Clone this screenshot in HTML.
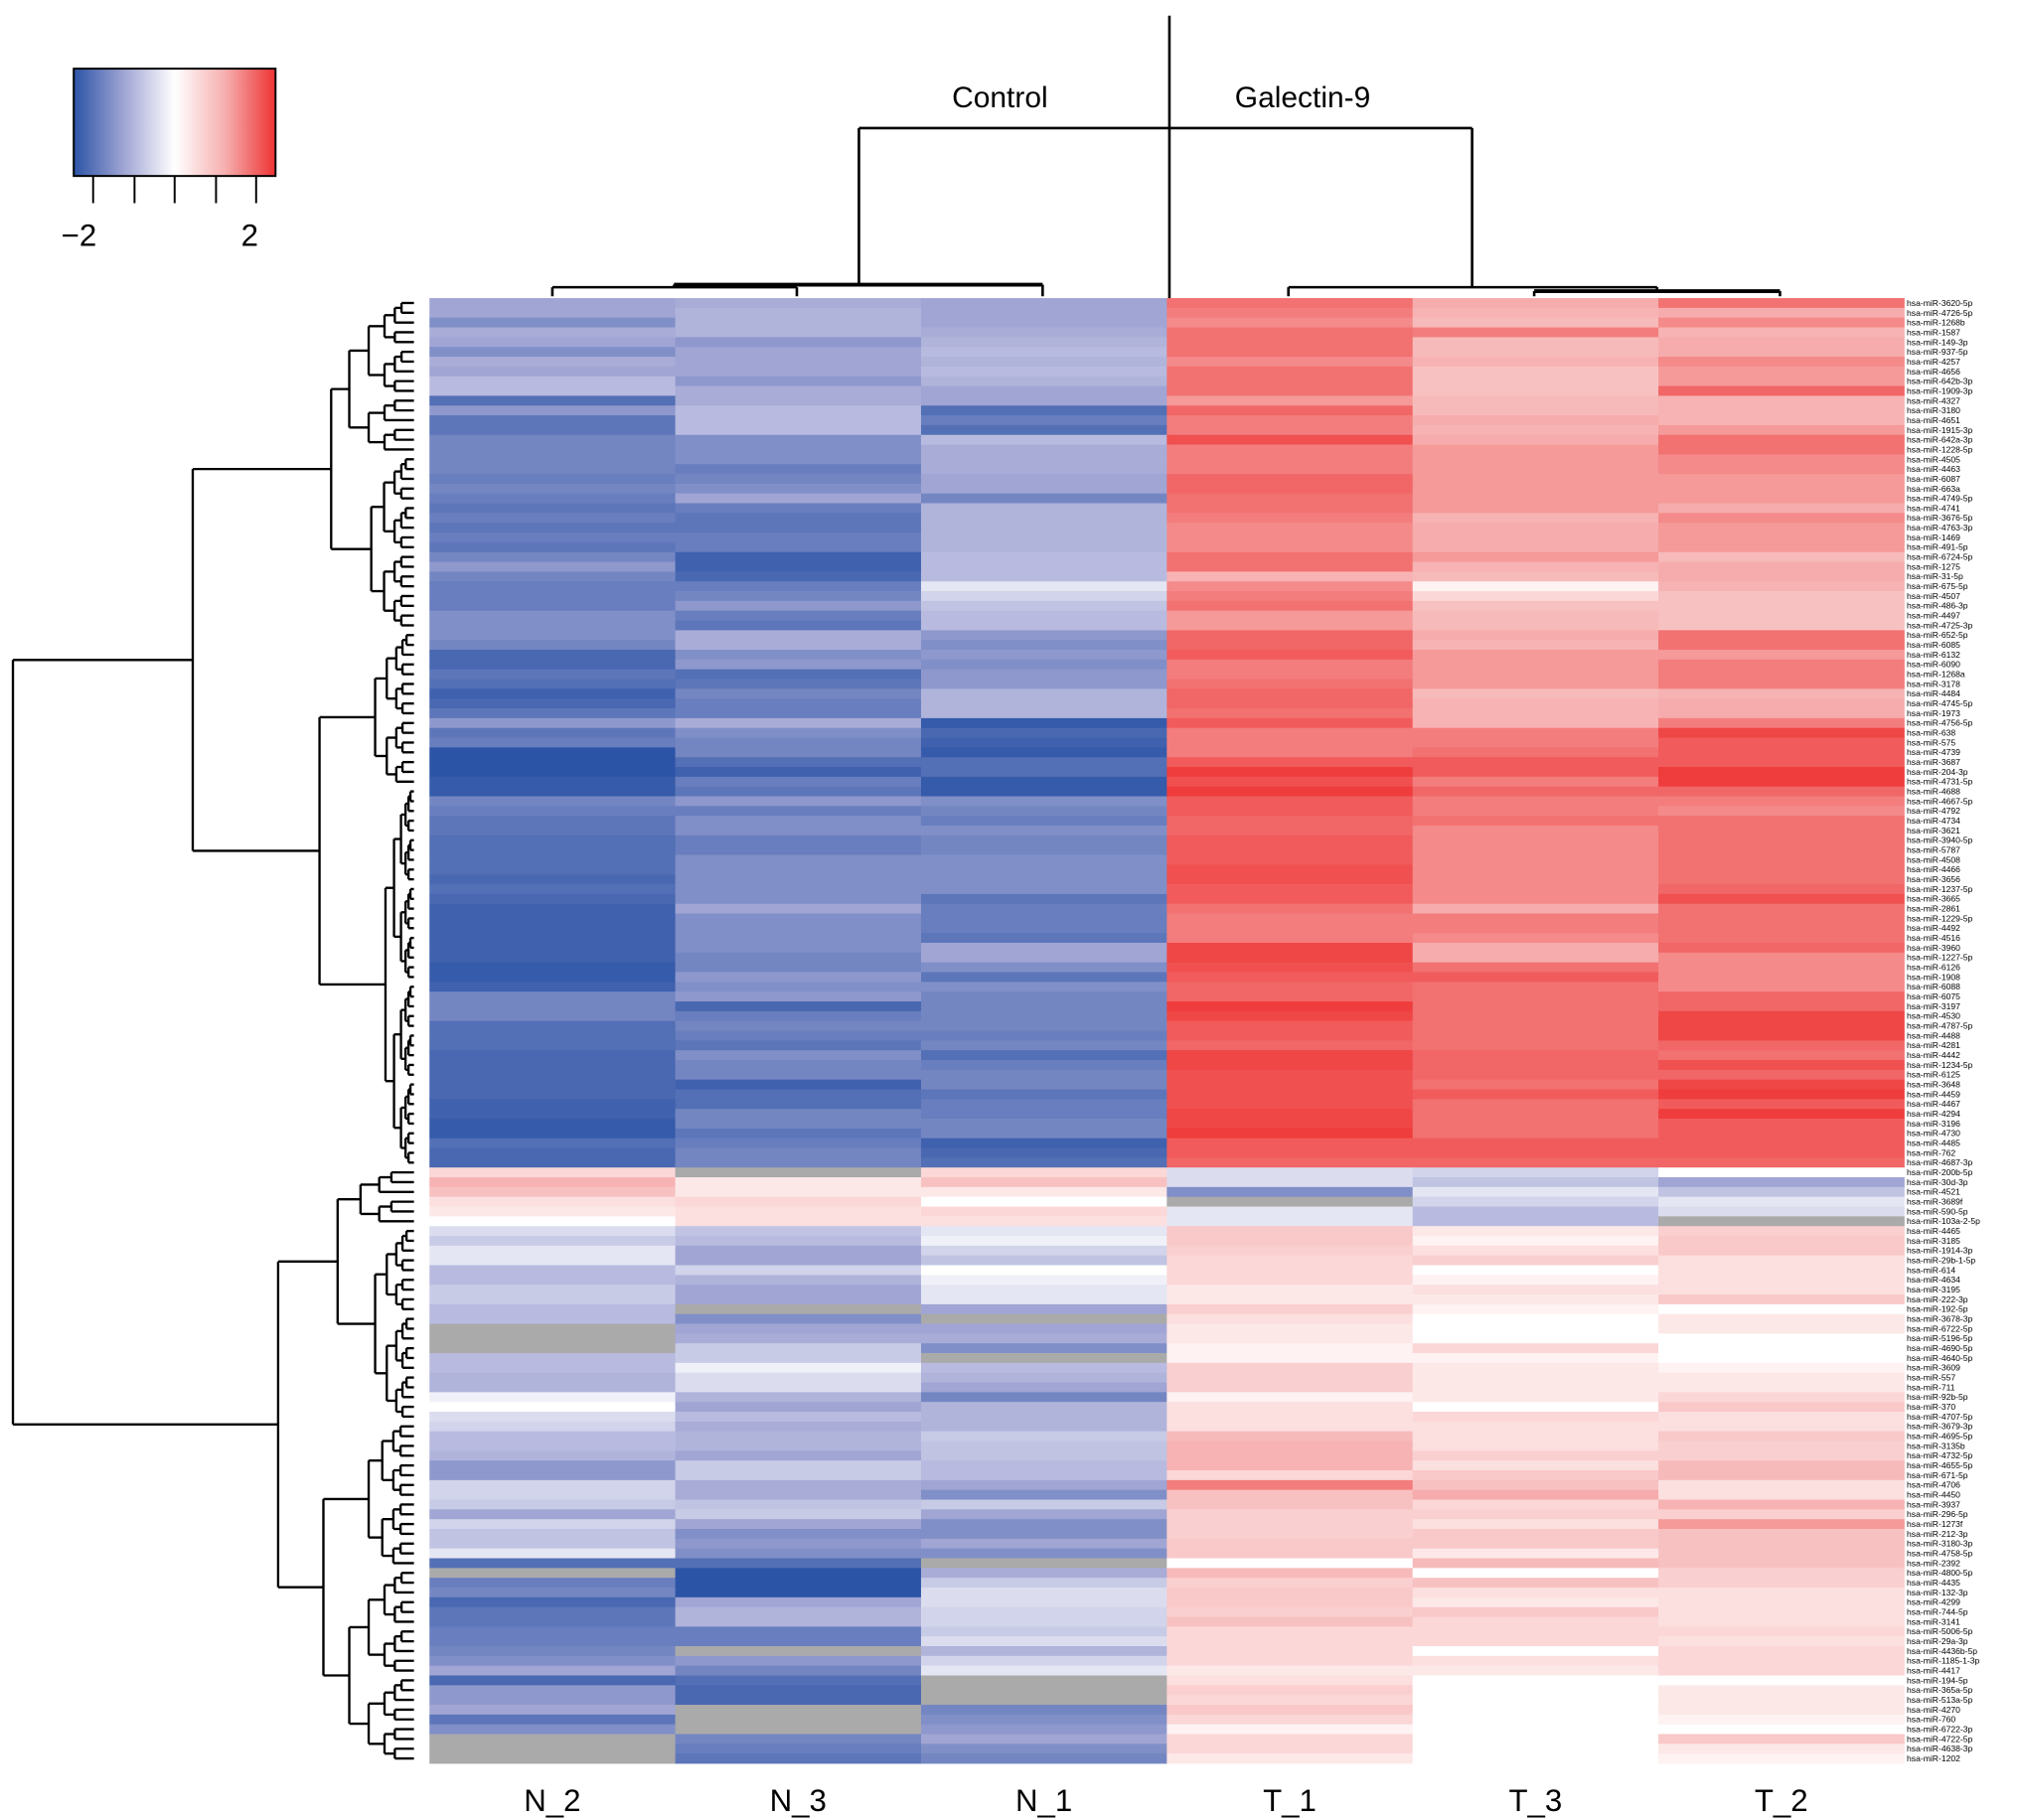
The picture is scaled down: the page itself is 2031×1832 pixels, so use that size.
<!DOCTYPE html>
<html><head><meta charset="utf-8"><style>
html,body{margin:0;padding:0;background:#fff;}
svg{display:block;}
</style></head><body>
<svg id="chart" width="2031" height="1832" viewBox="0 0 1560 1407" xmlns="http://www.w3.org/2000/svg" font-family="Liberation Sans, Arial, sans-serif">
<defs>
<linearGradient id="cg" x1="0" x2="1" y1="0" y2="0">
<stop offset="0" stop-color="#2c54a6"/><stop offset="0.25" stop-color="#a0a5d4"/><stop offset="0.5" stop-color="#ffffff"/><stop offset="0.75" stop-color="#f6afaf"/><stop offset="1" stop-color="#ee3232"/>
</linearGradient>
</defs>
<g>
<rect x="57" y="53" width="156" height="83" fill="url(#cg)" stroke="#000" stroke-width="1.5"/>
<g stroke="#000" stroke-width="1.5">
<line x1="72" y1="136" x2="72" y2="157"/><line x1="104" y1="136" x2="104" y2="157"/><line x1="135" y1="136" x2="135" y2="157"/><line x1="167" y1="136" x2="167" y2="157"/><line x1="198" y1="136" x2="198" y2="157"/>
</g>
<text x="61" y="190" font-size="24" text-anchor="middle">−2</text>
<text x="193" y="190" font-size="24" text-anchor="middle">2</text>
</g>
<g stroke="#000" stroke-width="2" fill="none">
<line x1="904" y1="12" x2="904" y2="231"/>
<line x1="664" y1="99" x2="1138" y2="99"/>
<line x1="664" y1="99" x2="664" y2="220"/>
<line x1="1138" y1="99" x2="1138" y2="222"/>
<line x1="521" y1="220" x2="806" y2="220" stroke-width="3"/>
<line x1="427" y1="222" x2="616" y2="222"/>
<line x1="521" y1="220" x2="521" y2="222"/>
<line x1="427" y1="222" x2="427" y2="229"/>
<line x1="616" y1="222" x2="616" y2="229"/>
<line x1="806" y1="220" x2="806" y2="229"/>
<line x1="996" y1="222" x2="1281" y2="222"/>
<line x1="1186" y1="225" x2="1376" y2="225" stroke-width="3"/>
<line x1="1281" y1="222" x2="1281" y2="225"/>
<line x1="996" y1="222" x2="996" y2="229"/>
<line x1="1186" y1="225" x2="1186" y2="229"/>
<line x1="1376" y1="225" x2="1376" y2="229"/>
</g>
<text x="773" y="83" font-size="23" text-anchor="middle">Control</text>
<text x="1007" y="83" font-size="23" text-anchor="middle">Galectin-9</text>
<g id="cells"></g>
<g id="rowlabels"></g>
<g id="collabels"></g>
<g id="rowdend" stroke="#000" stroke-width="1.8" fill="none"></g>
</svg>
<script>
const columns = ["N_2","N_3","N_1","T_1","T_3","T_2"];
const rowNames = ["3620-5p","4726-5p","1268b","1587","149-3p","937-5p","4257","4656","642b-3p","1909-3p","4327","3180","4651","1915-3p","642a-3p","1228-5p","4505","4463","6087","663a","4749-5p","4741","3676-5p","4763-3p","1469","491-5p","6724-5p","1275","31-5p","675-5p","4507","486-3p","4497","4725-3p","652-5p","6085","6132","6090","1268a","3178","4484","4745-5p","1973","4756-5p","638","575","4739","3687","204-3p","4731-5p","4688","4667-5p","4792","4734","3621","3940-5p","5787","4508","4466","3656","1237-5p","3665","2861","1229-5p","4492","4516","3960","1227-5p","6126","1908","6088","6075","3197","4530","4787-5p","4488","4281","4442","1234-5p","6125","3648","4459","4467","4294","3196","4730","4485","762","4687-3p","200b-5p","30d-3p","4521","3689f","590-5p","103a-2-5p","4465","3185","1914-3p","29b-1-5p","614","4634","3195","222-3p","192-5p","3678-3p","6722-5p","5196-5p","4690-5p","4640-5p","3609","557","711","92b-5p","370","4707-5p","3679-3p","4695-5p","3135b","4732-5p","4655-5p","671-5p","4706","4450","3937","296-5p","1273f","212-3p","3180-3p","4758-5p","2392","4800-5p","4435","132-3p","4299","744-5p","3141","5006-5p","29a-3p","4436b-5p","1185-1-3p","4417","194-5p","365a-5p","513a-5p","4270","760","6722-3p","4722-5p","4638-3p","1202"];
const valsN2 = [-1.0,-1.0,-1.2,-0.9,-1.0,-1.2,-0.9,-1.0,-0.7,-0.7,-1.6,-1.1,-1.5,-1.5,-1.3,-1.3,-1.3,-1.3,-1.4,-1.3,-1.4,-1.5,-1.4,-1.5,-1.4,-1.5,-1.3,-1.1,-1.3,-1.4,-1.4,-1.4,-1.2,-1.2,-1.2,-1.3,-1.7,-1.7,-1.5,-1.6,-1.8,-1.7,-1.5,-1.1,-1.5,-1.4,-2.0,-2.0,-2.0,-1.9,-1.9,-1.3,-1.4,-1.5,-1.5,-1.6,-1.6,-1.6,-1.6,-1.7,-1.6,-1.7,-1.8,-1.8,-1.8,-1.8,-1.8,-1.8,-1.9,-1.9,-1.8,-1.3,-1.3,-1.3,-1.6,-1.6,-1.6,-1.7,-1.7,-1.7,-1.7,-1.7,-1.8,-1.8,-1.9,-1.9,-1.6,-1.7,-1.7,0.4,0.9,0.7,0.3,0.2,0.0,-0.3,-0.5,-0.2,-0.2,-0.7,-0.7,-0.5,-0.5,-0.7,-0.7,null,null,null,-0.7,-0.7,-0.8,-0.8,-0.1,0.0,-0.3,-0.4,-0.7,-0.7,-0.8,-1.1,-1.1,-0.4,-0.4,-0.5,-1.0,-0.4,-0.6,-0.6,-0.2,-1.6,null,-1.4,-1.3,-1.7,-1.5,-1.5,-1.4,-1.4,-1.3,-1.2,-1.0,-1.7,-1.1,-1.1,-1.0,-1.5,-1.2,null,null,null];
const valsN3 = [-0.9,-0.8,-0.8,-0.8,-1.1,-1.0,-1.0,-1.0,-1.1,-0.9,-0.9,-0.7,-0.7,-0.7,-1.2,-1.2,-1.2,-1.4,-1.3,-1.2,-1.0,-1.4,-1.5,-1.5,-1.4,-1.4,-1.8,-1.8,-1.7,-1.4,-1.3,-1.1,-1.4,-1.5,-0.9,-0.9,-1.2,-1.1,-1.6,-1.5,-1.3,-1.4,-1.4,-0.9,-1.2,-1.3,-1.3,-1.6,-1.8,-1.4,-1.5,-1.1,-1.4,-1.2,-1.2,-1.4,-1.4,-1.2,-1.2,-1.2,-1.2,-1.2,-1.0,-1.2,-1.2,-1.2,-1.2,-1.3,-1.3,-1.1,-1.2,-1.1,-1.7,-1.4,-1.3,-1.4,-1.5,-1.2,-1.3,-1.3,-1.8,-1.6,-1.6,-1.3,-1.3,-1.5,-1.4,-1.3,-1.3,null,0.2,0.2,0.4,0.3,0.3,-0.6,-0.7,-1.0,-1.0,-0.4,-0.8,-1.0,-1.0,null,-1.2,-1.0,-0.9,-0.5,-0.5,-0.1,-0.3,-0.3,-0.8,-1.0,-0.7,-0.9,-0.8,-0.8,-1.0,-0.5,-0.5,-0.9,-0.9,-0.6,-0.5,-1.0,-1.2,-1.1,-1.2,-1.6,-2.0,-2.0,-2.0,-1.0,-0.8,-0.8,-1.4,-1.4,null,-1.1,-1.3,-1.6,-1.7,-1.7,null,null,null,-1.3,-1.4,-1.5];
const valsN1 = [-1.0,-1.0,-1.0,-0.9,-0.8,-0.7,-0.8,-0.7,-0.8,-1.0,-1.0,-1.6,-1.4,-1.6,-0.7,-0.9,-0.9,-0.9,-1.0,-1.0,-1.3,-0.8,-0.8,-0.8,-0.8,-0.8,-0.7,-0.7,-0.7,-0.2,-0.4,-0.6,-0.7,-0.7,-1.1,-1.2,-1.1,-1.2,-1.1,-1.1,-0.8,-0.8,-0.8,-1.9,-1.7,-1.8,-1.9,-1.6,-1.6,-1.9,-1.9,-1.2,-1.3,-1.4,-1.2,-1.3,-1.3,-1.2,-1.2,-1.2,-1.2,-1.5,-1.4,-1.4,-1.4,-1.5,-1.0,-1.0,-1.2,-1.5,-1.2,-1.3,-1.3,-1.3,-1.3,-1.4,-1.3,-1.6,-1.4,-1.3,-1.3,-1.5,-1.4,-1.4,-1.3,-1.3,-1.8,-1.7,-1.6,0.4,0.7,0.2,0.0,0.4,0.3,-0.2,-0.1,-0.4,-0.6,0.0,-0.1,-0.2,-0.2,-1.0,null,-1.0,-0.9,-1.2,null,-0.7,-0.8,-1.0,-1.3,-0.8,-0.8,-0.8,-0.5,-0.6,-0.6,-0.7,-0.7,-1.0,-1.2,-0.5,-1.0,-1.2,-1.2,-1.0,-1.2,null,-0.9,-0.5,-0.3,-0.3,-0.4,-0.4,-0.5,-0.3,-0.8,-0.4,-0.2,null,null,null,-1.3,-1.2,-1.1,-1.0,-1.2,-1.3];
const valsT1 = [1.4,1.3,1.2,1.4,1.4,1.4,1.2,1.4,1.4,1.4,1.1,1.5,1.3,1.3,1.7,1.3,1.3,1.3,1.5,1.5,1.4,1.4,1.3,1.2,1.2,1.2,1.4,1.4,0.9,1.2,1.3,1.4,1.1,1.1,1.5,1.5,1.6,1.3,1.3,1.4,1.5,1.5,1.4,1.6,1.3,1.3,1.3,1.6,1.9,1.7,1.9,1.6,1.6,1.5,1.5,1.6,1.6,1.6,1.7,1.7,1.6,1.6,1.4,1.3,1.3,1.3,1.8,1.8,1.7,1.6,1.5,1.5,1.9,1.8,1.6,1.6,1.5,1.8,1.8,1.7,1.7,1.7,1.7,1.8,1.8,1.9,1.6,1.6,1.5,-0.3,-0.3,-1.2,null,-0.2,-0.2,0.6,0.6,0.5,0.4,0.4,0.4,0.2,0.2,0.5,0.3,0.2,0.2,0.1,0.1,0.5,0.5,0.5,0.1,0.3,0.3,0.3,0.8,0.9,0.9,0.9,0.4,1.3,0.7,0.7,0.5,0.5,0.5,0.6,0.6,0.0,0.8,0.5,0.6,0.6,0.5,0.7,0.4,0.4,0.4,0.4,0.2,0.3,0.5,0.4,0.6,0.4,0.1,0.4,0.4,0.2];
const valsT3 = [1.0,0.9,0.8,1.3,0.8,0.8,0.9,0.7,0.7,0.7,0.8,0.8,1.0,0.9,1.0,1.1,1.1,1.1,1.1,1.1,1.1,1.1,0.9,1.0,1.0,1.0,1.1,0.9,0.8,0.1,0.4,0.7,0.8,0.8,1.0,0.9,1.1,1.1,1.1,1.1,0.8,0.9,0.9,0.9,1.3,1.3,1.4,1.6,1.6,1.3,1.5,1.3,1.3,1.4,1.2,1.2,1.2,1.2,1.2,1.2,1.2,1.2,1.0,1.3,1.3,1.2,1.0,1.0,1.4,1.6,1.4,1.4,1.4,1.4,1.4,1.4,1.4,1.5,1.5,1.5,1.4,1.6,1.4,1.4,1.4,1.4,1.6,1.6,1.5,-0.4,-0.6,-0.2,-0.4,-0.7,-0.7,0.2,0.1,0.3,0.5,0.0,0.1,0.3,0.2,0.1,0.0,0.0,0.0,0.4,0.1,0.2,0.2,0.2,0.2,0.0,0.4,0.3,0.3,0.3,0.5,0.3,0.6,0.7,1.0,0.4,0.5,0.3,0.6,0.6,0.2,0.8,0.0,0.7,0.3,0.2,0.6,0.4,0.4,0.4,0.0,0.3,0.2,0.0,0.0,0.0,0.0,0.0,0.0,0.0,0.0,0.0];
const valsT2 = [1.4,1.0,1.2,0.9,1.0,1.0,1.2,1.1,1.1,1.5,0.9,0.9,0.9,1.1,1.4,1.4,1.2,1.2,1.1,1.1,1.1,1.0,1.2,1.1,1.1,1.1,0.8,1.0,1.0,0.9,0.7,0.7,0.7,0.7,1.4,1.4,1.1,1.3,1.3,1.3,0.9,1.0,1.0,1.3,1.8,1.6,1.6,1.6,1.9,1.9,1.5,1.3,1.2,1.4,1.4,1.4,1.4,1.4,1.4,1.4,1.5,1.7,1.4,1.4,1.4,1.4,1.5,1.2,1.2,1.2,1.2,1.5,1.5,1.8,1.8,1.8,1.5,1.4,1.7,1.5,1.8,1.9,1.6,1.9,1.6,1.6,1.6,1.6,1.5,0.0,-1.0,-0.6,-0.2,-0.3,null,0.5,0.6,0.6,0.3,0.3,0.3,0.3,0.6,0.0,0.2,0.2,0.0,0.0,0.0,0.1,0.2,0.2,0.4,0.6,0.3,0.3,0.6,0.5,0.5,0.8,0.8,0.3,0.3,0.9,0.5,1.1,0.7,0.7,0.7,0.7,0.5,0.5,0.3,0.3,0.3,0.3,0.4,0.3,0.4,0.4,0.4,0.0,0.2,0.2,0.2,0.1,0.0,0.6,0.2,0.1];
const series = [valsN2, valsN3, valsN1, valsT1, valsT3, valsT2];

const NS = "http://www.w3.org/2000/svg";
const X0 = 332, X1 = 1472, Y0 = 230.4, Y1 = 1363.3;
const nRows = rowNames.length;
const colW = (X1 - X0) / columns.length;
const rowH = (Y1 - Y0) / nRows;
function xPos(c){ return X0 + c * colW; }
function yPos(r){ return Y0 + r * rowH; }
function lerp(a,b,t){ return Math.round(a + (b-a)*t); }
function mix(c1,c2,t){ return "rgb(" + lerp(c1[0],c2[0],t) + "," + lerp(c1[1],c2[1],t) + "," + lerp(c1[2],c2[2],t) + ")"; }
function colorOf(v){
  if (v === null) return "#aaaaaa";
  v = Math.max(-2, Math.min(2, v));
  const W=[255,255,255], B1=[160,165,212], B2=[44,84,166], R1=[246,172,172], R2=[238,50,50];
  if (v < 0) { const a=-v; return a<=1 ? mix(W,B1,Math.pow(a,0.8)) : mix(B1,B2,Math.pow(a-1,0.8)); }
  return v<=1 ? mix(W,R1,Math.pow(v,0.8)) : mix(R1,R2,Math.pow(v-1,0.8));
}
const cells = document.getElementById("cells");
series.forEach(function(vals, c){
  vals.forEach(function(v, r){
    const el = document.createElementNS(NS, "rect");
    el.setAttribute("x", xPos(c));
    el.setAttribute("y", yPos(r));
    el.setAttribute("width", colW + 0.3);
    el.setAttribute("height", rowH + 0.3);
    el.setAttribute("fill", colorOf(v));
    
    
    cells.appendChild(el);
  });
});
const rl = document.getElementById("rowlabels");
rowNames.forEach(function(n, r){
  const t = document.createElementNS(NS, "text");
  t.setAttribute("x", X1 + 2);
  t.setAttribute("y", yPos(r) + rowH*0.8);
  t.setAttribute("font-size", "6.6");
  t.textContent = "hsa-miR-" + n;
  
  
  rl.appendChild(t);
});
const cl = document.getElementById("collabels");
columns.forEach(function(n, c){
  const t = document.createElementNS(NS, "text");
  t.setAttribute("x", xPos(c) + colW/2);
  t.setAttribute("y", 1400);
  t.setAttribute("font-size", "24");
  t.setAttribute("text-anchor", "middle");
  t.textContent = n;
  
  
  cl.appendChild(t);
});
const rd = document.getElementById("rowdend");
const LEAFX = 320;
function line(x1,y1,x2,y2){
  const l = document.createElementNS(NS, "line");
  l.setAttribute("x1",x1); l.setAttribute("y1",y1); l.setAttribute("x2",x2); l.setAttribute("y2",y2);
  
  
  rd.appendChild(l);
}
function drawRange(lo, hi, x){
  if (lo === hi) return {x: LEAFX, y: yPos(lo-1) + rowH/2};
  const mid = Math.floor((lo+hi)/2);
  const cx = x + (LEAFX - x) * 0.35;
  const a = drawRange(lo, mid, cx), b = drawRange(mid+1, hi, cx);
  join(x, a, b);
  return {x: x, y: (a.y+b.y)/2};
}
function join(x, a, b){
  line(x, a.y, x, b.y);
  line(x, a.y, a.x, a.y);
  line(x, b.y, b.x, b.y);
}
function drawNode(n, px){
  if (Array.isArray(n)) return drawRange(n[0], n[1], px + (LEAFX - px) * 0.3);
  const a = drawNode(n.L, n.x), b = drawNode(n.R, n.x);
  join(n.x, a, b);
  return {x: n.x, y: (a.y+b.y)/2};
}
const tree = {x:10,
  L:{x:149, L:{x:256, L:{x:270,L:[1,10],R:[11,16]}, R:{x:287,L:[17,26],R:[27,34]}}, R:{x:247, L:{x:290,L:[35,43],R:[44,50]}, R:{x:298,L:[51,70],R:[71,89]}}},
  R:{x:215, L:{x:261, L:[90,95], R:{x:290,L:[96,104],R:[105,115]}}, R:{x:250, L:{x:285,L:[116,123],R:[124,130]}, R:{x:270,L:[131,141],R:[142,150]}}}};
drawNode(tree, 0);
</script>
</body></html>
